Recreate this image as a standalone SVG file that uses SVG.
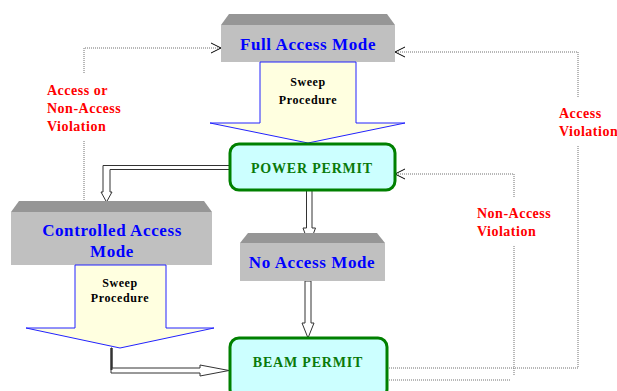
<svg xmlns="http://www.w3.org/2000/svg" width="617" height="391" viewBox="0 0 617 391">
<style>
.box{fill:#c0c0c0}
.bevel{fill:#969696}
.mode{font-family:"Liberation Serif","Times New Roman",serif;font-weight:bold;font-size:17px;fill:#0000ff;text-anchor:middle;letter-spacing:0.6px}
.sweep{fill:#ffffe0;stroke:#2222ff;stroke-width:1}
.stxt{font-family:"Liberation Serif","Times New Roman",serif;font-weight:bold;font-size:12px;fill:#000;text-anchor:middle;letter-spacing:0.6px}
.permit{fill:#ccffff;stroke:#008000;stroke-width:3}
.ptxt{font-family:"Liberation Serif","Times New Roman",serif;font-weight:bold;font-size:14px;fill:#0a7a0a;text-anchor:middle;letter-spacing:0.8px}
.blk{fill:#fff;stroke:#333;stroke-width:1}
.dot{fill:none;stroke:#707070;stroke-width:1;stroke-dasharray:1 1}
.lbl{font-family:"Liberation Serif","Times New Roman",serif;font-weight:bold;font-size:14px;fill:#ff0000;letter-spacing:0.5px}
</style>
<defs>
<marker id="open" markerWidth="12" markerHeight="12" refX="11" refY="6" orient="auto" markerUnits="userSpaceOnUse">
<path d="M1,1 L11,6 L1,11" fill="none" stroke="#000" stroke-width="1"/>
</marker>
</defs>

<g id="connectors">
<polygon class="blk" points="230,165.5 103,165.5 103,192 101,192 106.5,202 112,192 110,192 110,169.5 230,169.5"/>
<polygon class="blk" points="306.5,190 312,190 312,228 315.5,228 309.2,245 303,228 306.5,228"/>
<polygon class="blk" points="305,281 311,281 311,323 314,323 308,338 302,323 305,323"/>
<polygon class="blk" points="111,348 112,348 112,368 200,368 200,365 229,370.5 200,376 200,373 111,373"/>
<line x1="111.5" y1="348" x2="111.5" y2="370" stroke="#333" stroke-width="2"/>
<polyline class="dot" points="84,202 84,140"/>
<polyline class="dot" points="84,73 84,48 221,48" marker-end="url(#open)"/>
<polyline class="dot" points="387,368 578,368 578,145"/>
<polyline class="dot" points="578,97 578,52 395,52" marker-end="url(#open)"/>
<polyline class="dot" points="387,380 510,380"/>
<polyline class="dot" points="514,375 514,245"/>
<polyline class="dot" points="514,197 514,174 395,174" marker-end="url(#open)"/>
<text class="lbl" x="47" y="95">Access or</text>
<text class="lbl" x="47" y="113">Non-Access</text>
<text class="lbl" x="47" y="131">Violation</text>
<text class="lbl" x="559" y="118">Access</text>
<text class="lbl" x="559" y="136">Violation</text>
<text class="lbl" x="477" y="218">Non-Access</text>
<text class="lbl" x="477" y="236">Violation</text>
</g>

<g id="full-access">
<polygon class="bevel" points="221,25 229,14 387,14 395,25"/>
<rect class="box" x="221" y="25" width="174" height="37"/>
<text class="mode" x="308" y="50">Full Access Mode</text>
</g>

<g id="sweep-full">
<polygon class="sweep" points="260,62 356,62 356,123 405,123 308,143 210,123 260,123"/>
<text class="stxt" x="308" y="86">Sweep</text>
<text class="stxt" x="308" y="104">Procedure</text>
</g>

<g id="power-permit">
<rect class="permit" x="230" y="144" width="165" height="46" rx="9"/>
<text class="ptxt" x="312" y="173">POWER PERMIT</text>
</g>

<g id="controlled-access">
<polygon class="bevel" points="11,212 19,201 204,201 212,212"/>
<rect class="box" x="11" y="212" width="201" height="53"/>
<text class="mode" x="112" y="236">Controlled Access</text>
<text class="mode" x="112" y="257">Mode</text>
</g>

<g id="no-access">
<polygon class="bevel" points="240,243 248,233 377,233 385,243"/>
<rect class="box" x="240" y="243" width="145" height="38"/>
<text class="mode" x="312" y="268">No Access Mode</text>
</g>

<g id="sweep-controlled">
<polygon class="sweep" points="75,265 166,265 166,328 214,328 120,348 26,328 75,328"/>
<text class="stxt" x="120" y="287">Sweep</text>
<text class="stxt" x="120" y="302">Procedure</text>
</g>

<g id="beam-permit">
<rect class="permit" x="230" y="338" width="157" height="60" rx="9"/>
<text class="ptxt" x="308" y="367">BEAM PERMIT</text>
</g>
</svg>
